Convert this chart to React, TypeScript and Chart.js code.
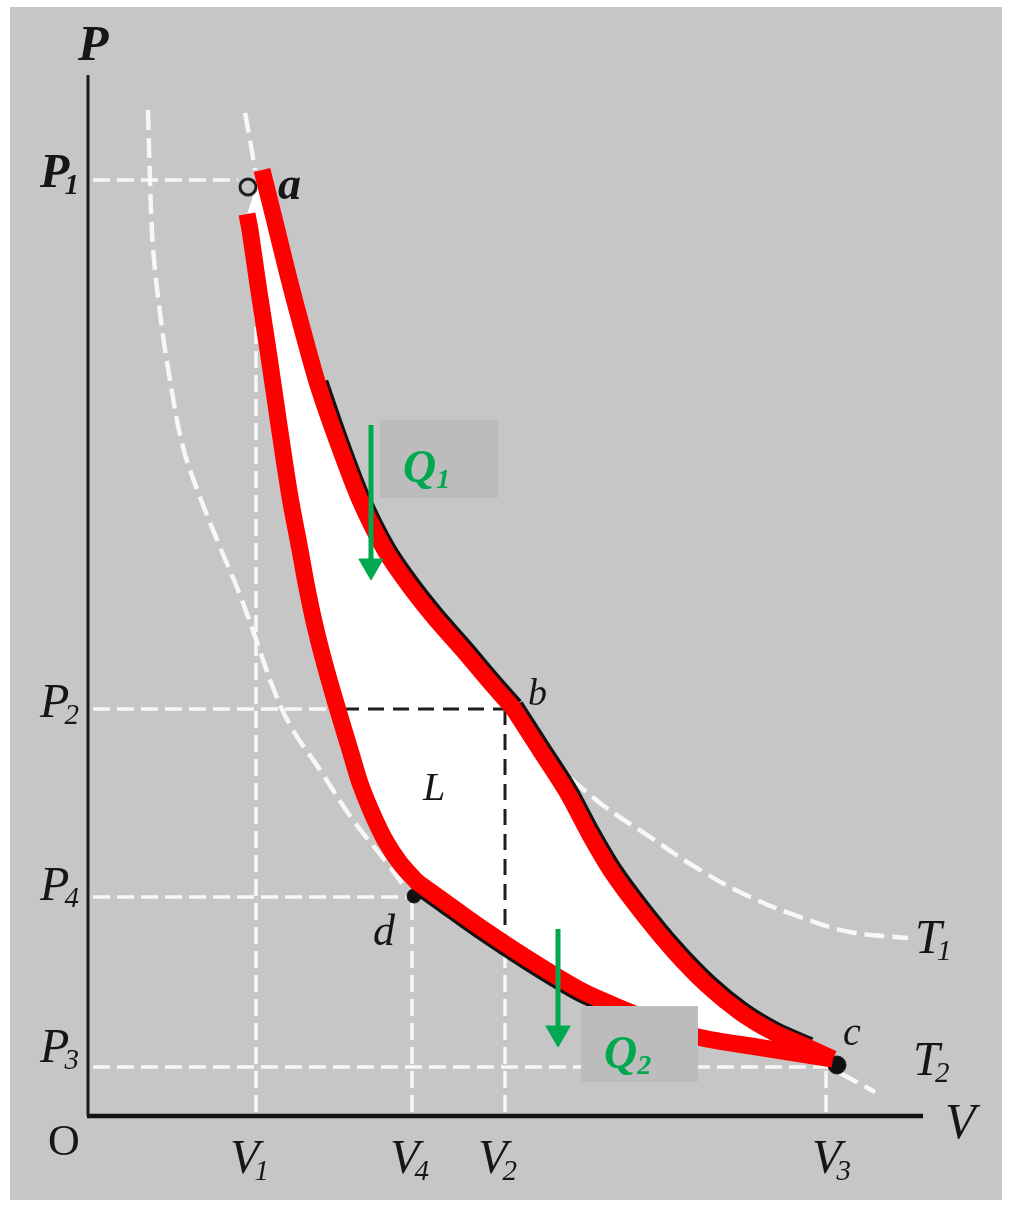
import React, { useEffect, useRef } from 'react';
import { Chart, registerables } from 'chart.js';

Chart.register(...registerables);

// ---------------- data (V and P in arbitrary units, origin at O) ----------------
const volumeSubs = ['1', '4', '2', '3'];
const volumeValues = [1.68, 3.24, 4.17, 7.38];
const pressureSubs = ['1', '2', '4', '3'];
const pressureValues = [9.36, 4.07, 2.19, 0.49];

// a -> b : isothermal expansion at T1
const abV = [1.74, 1.87, 2.0, 2.14, 2.3, 2.49, 2.72, 2.97, 3.2, 3.46, 3.75, 4.02, 4.25];
const abP = [9.46, 8.94, 8.41, 7.88, 7.31, 6.76, 6.16, 5.66, 5.32, 4.99, 4.66, 4.34, 4.08];
// b -> c : adiabatic expansion
const bcV = [4.25, 4.52, 4.79, 5.02, 5.24, 5.52, 5.85, 6.19, 6.52, 6.85, 7.19, 7.45];
const bcP = [4.08, 3.66, 3.24, 2.81, 2.44, 2.06, 1.66, 1.31, 1.04, 0.84, 0.69, 0.57];
// c -> d : isothermal compression at T2
const cdV = [7.45, 6.69, 6.1, 5.67, 5.25, 4.92, 4.42, 3.92, 3.57, 3.29];
const cdP = [0.57, 0.69, 0.79, 0.94, 1.11, 1.26, 1.56, 1.89, 2.14, 2.34];
// d -> a : adiabatic compression
const daV = [3.29, 3.12, 2.97, 2.84, 2.72, 2.62, 2.52, 2.42, 2.33, 2.25, 2.18, 2.12, 2.02, 1.92, 1.8, 1.7, 1.62, 1.59];
const daP = [2.34, 2.53, 2.76, 3.03, 3.33, 3.66, 3.99, 4.33, 4.66, 4.99, 5.33, 5.66, 6.19, 6.84, 7.66, 8.31, 8.86, 9.02];

// isotherm T1 outside the cycle
const t1UpperV = [1.57, 1.62, 1.67];
const t1UpperP = [10.03, 9.76, 9.46];
const t1LowerV = [4.62, 5.12, 5.62, 6.12, 6.62, 7.12, 7.62, 8.2];
const t1LowerP = [3.56, 3.13, 2.79, 2.46, 2.19, 1.99, 1.84, 1.78];
// isotherm T2 outside the cycle
const t2UpperV = [0.6, 0.62, 0.65, 0.72, 0.82, 0.95, 1.12, 1.32, 1.52, 1.7, 1.84, 2.02, 2.32, 2.65, 2.99, 3.19];
const t2UpperP = [10.06, 9.36, 8.69, 8.03, 7.36, 6.69, 6.19, 5.69, 5.21, 4.71, 4.31, 3.91, 3.46, 2.96, 2.53, 2.26];
const t2LowerV = [7.52, 7.87];
const t2LowerP = [0.43, 0.24];

// extent of the guide lines
const pressureGuideEnd = [1.5, 2.4, 3.24, 7.4];
const volumeGuideTop = [9.1, 2.19, 1.6, 0.45];
const p2DashedFrom = 2.55;

// marked states (dots)
const dotAV = [1.6];
const dotAP = [9.29];
const dotCV = [7.49];
const dotCP = [0.51];
const dotDV = [3.26];
const dotDP = [2.2];

// heat arrows (V, P start, P head)
const heatNames = ['1', '2'];
const heatArrowV = [2.83, 4.7];
const heatArrowFrom = [6.91, 1.87];
const heatArrowHead = [5.5, 0.83];

// axis extents
const axisVMax = 8.35;
const axisPMax = 10.41;
const stateNames = ['a', 'b', 'c', 'd'];

// ---------------- layout / style ----------------
const RANGE = { xMin: -0.88, xMax: 9.21, yMin: -0.91, yMax: 11.16 };
const PAPER = '#c6c6c6';
const BOX = '#bcbcbc';
const GUIDE = 'rgba(250,250,250,0.95)';
const INK = '#161616';
const RED = '#ff0000';
const GREEN = '#00a84f';
const SERIF = '"Liberation Serif", "DejaVu Serif", serif';
const RED_WIDTH = 17;
const CURVE_TENSION = 0.3;
// offset (in axis units) of the original black ink line visible beside the red stroke
const INK_SHIFT_UPPER = [0.035, 0.03];
const INK_SHIFT_LOWER = [-0.03, -0.035];

const heatBoxes = [
  { v0: 2.92, v1: 4.1, p0: 6.96, p1: 6.18 },
  { v0: 4.93, v1: 6.1, p0: 1.1, p1: 0.34 },
];
const pressureLabelDy = [7, 8, 3, -5];
const pressureLabelBold = [true, false, false, false];
const volumeLabelDx = [-26, -22, -27, -14];
const stateLabelOffset = [
  [16, 29, 46, true],
  [15, -3, 38, false],
  [10, -14, 40, false],
  [-44, 63, 44, false],
];

const pts = (xs: number[], ys: number[]) => xs.map((x, i) => ({ x, y: ys[i] }));

function drawLabel(
  ctx: CanvasRenderingContext2D,
  main: string,
  sub: string,
  left: number,
  baseline: number,
  size: number,
  bold: boolean,
  italic = true,
  subGap = -0.1,
) {
  const st = italic ? 'italic ' : '';
  ctx.font = `${st}${bold ? 'bold ' : ''}${size}px ${SERIF}`;
  ctx.textAlign = 'left';
  ctx.textBaseline = 'alphabetic';
  ctx.fillText(main, left, baseline);
  if (sub) {
    const w = ctx.measureText(main).width;
    const s = Math.round(size * 0.6);
    ctx.font = `${st}${bold ? 'bold ' : ''}${s}px ${SERIF}`;
    ctx.fillText(sub, left + w + size * subGap, baseline + size * 0.14);
  }
}

const paperPlugin = {
  id: 'paper',
  beforeDraw(chart: any) {
    const { ctx, width, height } = chart;
    ctx.save();
    ctx.fillStyle = '#ffffff';
    ctx.fillRect(0, 0, width, height);
    ctx.fillStyle = PAPER;
    ctx.fillRect(10, 7, width - 17, height - 14);
    ctx.restore();
  },
};

const annotatePlugin = {
  id: 'annotate',
  afterDatasetsDraw(chart: any) {
    const ctx: CanvasRenderingContext2D = chart.ctx;
    const X = (v: number) => chart.scales.x.getPixelForValue(v);
    const Y = (v: number) => chart.scales.y.getPixelForValue(v);
    ctx.save();

    // heat boxes + Q labels
    heatBoxes.forEach((b, i) => {
      const x0 = X(b.v0);
      const y0 = Y(b.p0);
      ctx.fillStyle = BOX;
      ctx.fillRect(x0, y0, X(b.v1) - x0, Y(b.p1) - y0);
      ctx.fillStyle = GREEN;
      drawLabel(ctx, 'Q', heatNames[i], x0 + 23, y0 + 62, 46, true, true, 0.0);
    });

    ctx.fillStyle = INK;
    // axis titles
    drawLabel(ctx, 'P', '', X(0) - 10, Y(axisPMax) - 15, 50, true);
    drawLabel(ctx, 'V', '', X(axisVMax) + 22, Y(0) + 22, 50, false);
    drawLabel(ctx, 'O', '', X(0) - 40, Y(0) + 39, 44, false, false);

    // pressure labels
    pressureValues.forEach((p, i) => {
      drawLabel(ctx, 'P', pressureSubs[i], X(0) - 48, Y(p) + pressureLabelDy[i], 48, pressureLabelBold[i]);
    });
    // volume labels
    volumeValues.forEach((v, i) => {
      drawLabel(ctx, 'V', volumeSubs[i], X(v) + volumeLabelDx[i], Y(0) + 57, 48, false);
    });

    // state labels a, b, c, d
    const states = [
      [abV[0], abP[0]],
      [bcV[0], bcP[0]],
      [cdV[0], cdP[0]],
      [daV[0], daP[0]],
    ];
    states.forEach((s, i) => {
      const [dx, dy, size, bold] = stateLabelOffset[i] as [number, number, number, boolean];
      drawLabel(ctx, stateNames[i], '', X(s[0]) + dx, Y(s[1]) + dy, size, bold);
    });

    // isotherm labels
    drawLabel(ctx, 'T', '1', X(t1LowerV[t1LowerV.length - 1]) + 7, Y(t1LowerP[t1LowerP.length - 1]) + 15, 48, false);
    drawLabel(ctx, 'T', '2', X(t2LowerV[t2LowerV.length - 1]) + 38, Y(t2LowerP[t2LowerP.length - 1]) - 17, 48, false);

    // work area label
    drawLabel(ctx, 'L', '', X(3.35), Y(3.16), 40, false);

    ctx.restore();
  },
};

export default function App() {
  const ref = useRef<HTMLCanvasElement>(null);

  useEffect(() => {
    const canvas = ref.current;
    if (!canvas) return;

    const line = (data: any[], color: string, width: number, order: number, extra: any = {}) => ({
      data,
      borderColor: color,
      backgroundColor: color,
      borderWidth: width,
      order,
      pointRadius: 0,
      pointHoverRadius: 0,
      fill: false,
      tension: 0,
      ...extra,
    });
    const dot = (data: any[], radius: number, fillC: string, border: number, order: number, edge = '#1e1e1e') => ({
      data,
      showLine: false,
      order,
      pointRadius: radius,
      pointHoverRadius: radius,
      pointBackgroundColor: fillC,
      pointBorderColor: edge,
      pointBorderWidth: border,
    });

    const datasets: any[] = [];
    const guide = { borderDash: [17, 7], borderCapStyle: 'butt' };
    const curveGuide = { borderDash: [20, 8], borderCapStyle: 'butt', tension: 0.4 };

    // white dashed guides
    pressureValues.forEach((p, i) => {
      datasets.push(line([{ x: 0.05, y: p }, { x: pressureGuideEnd[i], y: p }], GUIDE, 3.5, 9, guide));
    });
    volumeValues.forEach((v, i) => {
      datasets.push(line([{ x: v, y: 0.04 }, { x: v, y: volumeGuideTop[i] }], GUIDE, 3.5, 9, guide));
    });
    // isotherm curves (white dashed)
    datasets.push(line(pts(t1UpperV, t1UpperP), GUIDE, 4.5, 9, curveGuide));
    datasets.push(line(pts(t1LowerV, t1LowerP), GUIDE, 4.5, 9, curveGuide));
    datasets.push(line(pts(t2UpperV, t2UpperP), GUIDE, 4.5, 9, curveGuide));
    datasets.push(line(pts(t2LowerV, t2LowerP), GUIDE, 4.5, 9, curveGuide));

    // white interior of the cycle
    const upperV = abV.concat(bcV.slice(1));
    const upperP = abP.concat(bcP.slice(1));
    const lowerV = cdV.concat(daV.slice(1));
    const lowerP = cdP.concat(daP.slice(1));
    datasets.push(
      line(pts(upperV.concat(lowerV), upperP.concat(lowerP)), 'transparent', 1, 8, {
        fill: 'shape',
        backgroundColor: '#ffffff',
      }),
    );

    // black dashed P2 / V2 construction
    const dashBlack = { borderDash: [16, 9], borderCapStyle: 'butt' };
    datasets.push(line([{ x: p2DashedFrom, y: pressureValues[1] }, { x: volumeValues[2], y: pressureValues[1] }], '#1d1d1d', 3, 7, dashBlack));
    datasets.push(line([{ x: volumeValues[2], y: pressureValues[1] }, { x: volumeValues[2], y: volumeGuideTop[2] }], '#1d1d1d', 3, 7, dashBlack));

    // axes
    datasets.push(line([{ x: 0, y: 0 }, { x: 0, y: axisPMax }], '#1a1a1a', 3, 6));
    datasets.push(line([{ x: -0.01, y: 0 }, { x: axisVMax, y: 0 }], '#121212', 4.5, 6));

    // state dots
    datasets.push(dot(pts(dotAV, dotAP), 8, 'rgba(0,0,0,0)', 3, 4));
    datasets.push(dot(pts(dotCV, dotCP), 9, '#111111', 1, 4));
    datasets.push(dot(pts(dotDV, dotDP), 7, '#111111', 1, 4));

    // original black ink of the cycle, peeking out beside the red stroke
    const shifted = (xs: number[], ys: number[], s: number[]) =>
      pts(xs.map((x) => x + s[0]), ys.map((y) => y + s[1]));
    const inkStyle = { borderJoinStyle: 'round', borderCapStyle: 'butt', tension: CURVE_TENSION };
    datasets.push(line(shifted(abV.slice(4), abP.slice(4), INK_SHIFT_UPPER), '#141414', 14, 3, inkStyle));
    datasets.push(line(shifted(bcV.slice(0, 11), bcP.slice(0, 11), INK_SHIFT_UPPER), '#141414', 14, 3, inkStyle));
    datasets.push(line(shifted(cdV.slice(4), cdP.slice(4), INK_SHIFT_LOWER), '#141414', 14, 3, inkStyle));

    // red cycle: four strokes, joined at b and d
    const redStyle = { borderJoinStyle: 'round', borderCapStyle: 'butt', tension: CURVE_TENSION };
    datasets.push(line(pts(abV, abP), RED, RED_WIDTH, 2, redStyle));
    datasets.push(line(pts(bcV, bcP), RED, RED_WIDTH, 2, redStyle));
    datasets.push(line(pts(cdV, cdP), RED, RED_WIDTH, 2, redStyle));
    datasets.push(line(pts(daV, daP), RED, RED_WIDTH, 2, redStyle));
    datasets.push(
      dot(
        [
          { x: bcV[0], y: bcP[0] },
          { x: daV[0], y: daP[0] },
        ],
        RED_WIDTH / 2,
        RED,
        0,
        2,
        RED,
      ),
    );

    // green heat arrows
    heatArrowV.forEach((v, i) => {
      datasets.push(line([{ x: v, y: heatArrowFrom[i] }, { x: v, y: heatArrowHead[i] }], GREEN, 5, 1));
      datasets.push({
        data: [{ x: v, y: heatArrowHead[i] }],
        showLine: false,
        order: 0,
        pointStyle: 'triangle',
        pointRotation: 180,
        pointRadius: 14,
        pointHoverRadius: 14,
        pointBackgroundColor: GREEN,
        pointBorderColor: GREEN,
        pointBorderWidth: 1,
      });
    });

    const chart = new Chart(canvas, {
      type: 'line',
      data: { datasets },
      options: {
        responsive: false,
        animation: false,
        events: [],
        layout: { padding: 0, autoPadding: false },
        plugins: {
          legend: { display: false },
          tooltip: { enabled: false },
          title: { display: false },
        },
        scales: {
          x: { type: 'linear', min: RANGE.xMin, max: RANGE.xMax, display: false },
          y: { type: 'linear', min: RANGE.yMin, max: RANGE.yMax, display: false },
        },
      } as any,
      plugins: [paperPlugin, annotatePlugin],
    });

    return () => chart.destroy();
  }, []);

  return (
    <div style={{ position: 'absolute', left: 0, top: 0, width: 1009, height: 1207 }}>
      <canvas ref={ref} width={1009} height={1207} style={{ display: 'block', width: 1009, height: 1207 }} />
    </div>
  );
}
